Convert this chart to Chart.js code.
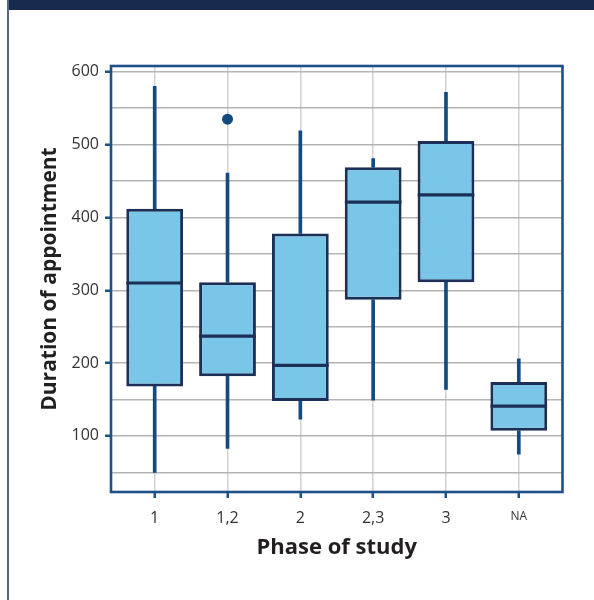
<!DOCTYPE html>
<html><head><meta charset="utf-8">
<script src="https://cdn.jsdelivr.net/npm/chart.js@4.4.0/dist/chart.umd.min.js"></script>
<style>
html,body{margin:0;padding:0;background:#fff;}
#wrap{position:relative;width:594px;height:600px;overflow:hidden;}
#banner{position:absolute;left:7px;top:0;width:587px;height:10px;background:#172b4e;}
#rule{position:absolute;left:7px;top:0;width:2px;height:600px;background:#56698a;}
canvas{position:absolute;left:0;top:0;}
</style></head><body>
<div id="wrap"><div id="banner"></div><div id="rule"></div><canvas id="c" width="594" height="600"></canvas></div>
<script>
const categories = ['1', '1,2', '2', '2,3', '3', 'NA'];
const whiskerLow  = [50, 83, 123, 149, 164, 75];
const q1          = [168, 182, 148, 287, 311, 107];
const median      = [310, 237, 197, 421, 431, 141];
const q3          = [412, 311, 378, 469, 505, 174];
const whiskerHigh = [580, 461, 519, 481, 572, 206];
const outlierCats   = ['1,2'];
const outlierValues = [535];
const yGridValues = [50, 100, 150, 200, 250, 300, 350, 400, 450, 500, 550, 600];
const yLabelValues = [100, 200, 300, 400, 500, 600];

const FRAME = '#1f5189';
const BOX_FILL = '#7ac6e8';
const BOX_EDGE = '#1c2f57';
const WHISKER = '#154a80';
const FONT = "'Open Sans', 'Noto Sans', sans-serif";

const xOf = c => categories.indexOf(c) + 1;

const framePlugin = {
  id: 'frame',
  afterDraw(chart) {
    const {ctx, chartArea: a} = chart;
    ctx.save();
    ctx.strokeStyle = FRAME;
    ctx.lineWidth = 2.6;
    ctx.strokeRect(a.left, a.top, a.right - a.left, a.bottom - a.top);
    ctx.restore();
  }
};

new Chart(document.getElementById('c'), {
  type: 'bar',
  data: {
    datasets: [
      {
        type: 'scatter', order: 0,
        data: outlierCats.map((c, i) => ({x: xOf(c), y: outlierValues[i]})),
        pointRadius: 5.5, pointBackgroundColor: WHISKER, pointBorderWidth: 0
      },
      {
        type: 'scatter', order: 1,
        data: categories.map((c, i) => ({x: i + 1, y: median[i]})),
        pointStyle: 'line', pointRadius: 28.3, pointBorderWidth: 3.2,
        pointBorderColor: BOX_EDGE, borderColor: BOX_EDGE
      },
      {
        order: 2, grouped: false,
        data: categories.map((c, i) => ({x: i + 1, y: [q1[i], q3[i]]})),
        backgroundColor: BOX_FILL, borderColor: BOX_EDGE, borderWidth: 3,
        borderSkipped: false, barPercentage: 0.78, categoryPercentage: 1
      },
      {
        order: 3, grouped: false,
        data: categories.map((c, i) => ({x: i + 1, y: [q3[i], whiskerHigh[i]]})),
        backgroundColor: WHISKER, borderWidth: 0, barThickness: 3
      },
      {
        order: 3, grouped: false,
        data: categories.map((c, i) => ({x: i + 1, y: [whiskerLow[i], q1[i]]})),
        backgroundColor: WHISKER, borderWidth: 0, barThickness: 3
      }
    ]
  },
  options: {
    responsive: false,
    animation: false,
    layout: {padding: {left: 0, top: 66, right: 31, bottom: 0}},
    plugins: {legend: {display: false}, tooltip: {enabled: false}},
    scales: {
      x: {
        type: 'linear', min: 0.4, max: 6.6, offset: false,
        afterBuildTicks: s => { s.ticks = categories.map((c, i) => ({value: i + 1})); },
        afterFit: s => { s.height = 108; },
        grid: {offset: false, color: '#d2d2d2', lineWidth: 1.5, drawTicks: true, tickLength: 6, tickColor: FRAME, tickWidth: 2.5},
        border: {display: false},
        ticks: {
          padding: 11, color: '#333',
          callback: v => categories[v - 1] ?? '',
          font: ctx => ({family: FONT, size: (categories[ctx.index] === 'NA') ? 12 : 16})
        },
        title: {display: true, text: 'Phase of study', color: '#231f20',
          font: {family: FONT, size: 22, weight: 'bold'}, padding: {top: 0, bottom: 39}}
      },
      y: {
        type: 'linear', min: 23, max: 608,
        afterBuildTicks: s => { s.ticks = yGridValues.map(v => ({value: v})); },
        afterFit: s => { s.width = 111; },
        grid: {color: '#b4b4b4', lineWidth: 1.5, drawTicks: true, tickLength: 6, tickWidth: 2.5,
          tickColor: ctx => (yLabelValues.includes(ctx.tick && ctx.tick.value) ? FRAME : 'rgba(0,0,0,0)')},
        border: {display: false},
        ticks: {
          padding: 6, color: '#333', font: {family: FONT, size: 16},
          callback: v => (yLabelValues.includes(v) ? String(v) : '')
        },
        title: {display: true, text: 'Duration of appointment', color: '#231f20',
          font: {family: FONT, size: 21, weight: 'bold'}, padding: {top: 37, bottom: 0}}
      }
    }
  },
  plugins: [framePlugin]
});
</script>
</body></html>
